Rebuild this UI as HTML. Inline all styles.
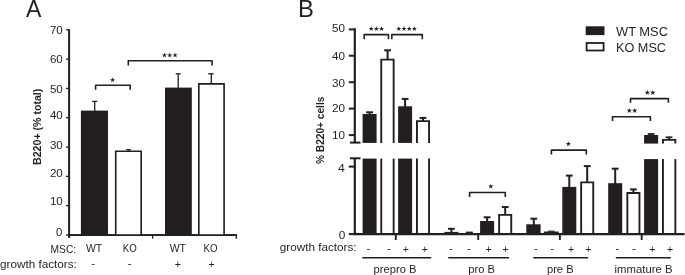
<!DOCTYPE html>
<html><head><meta charset="utf-8"><title>Figure</title>
<style>
html,body{margin:0;padding:0;background:#fff;}
body{width:685px;height:275px;overflow:hidden;}
svg{display:block;will-change:transform;}
text{font-family:"Liberation Sans",sans-serif;fill:#231f20;}
</style></head><body>
<svg width="685" height="275" viewBox="0 0 685 275">
<rect width="685" height="275" fill="#fff"/>
<text x="26.0" y="16.9" font-size="23.8" text-anchor="start" font-weight="normal" textLength="15.4" lengthAdjust="spacingAndGlyphs" >A</text>
<line x1="69.1" y1="29.2" x2="69.1" y2="237.9" stroke="#231f20" stroke-width="2.0" stroke-linecap="butt"/>
<line x1="68.19999999999999" y1="235.1" x2="236.9" y2="235.1" stroke="#231f20" stroke-width="1.7" stroke-linecap="butt"/>
<line x1="66.0" y1="235.0" x2="69.1" y2="235.0" stroke="#231f20" stroke-width="1.3" stroke-linecap="butt"/>
<text x="62.4" y="235.8" font-size="11.8" text-anchor="end" font-weight="normal" textLength="6.3" lengthAdjust="spacingAndGlyphs" >0</text>
<line x1="66.0" y1="205.69" x2="69.1" y2="205.69" stroke="#231f20" stroke-width="1.3" stroke-linecap="butt"/>
<text x="62.8" y="204.9" font-size="11.8" text-anchor="end" font-weight="normal" textLength="12.9" lengthAdjust="spacingAndGlyphs" >10</text>
<line x1="66.0" y1="176.38" x2="69.1" y2="176.38" stroke="#231f20" stroke-width="1.3" stroke-linecap="butt"/>
<text x="62.8" y="177.4" font-size="11.8" text-anchor="end" font-weight="normal" textLength="12.9" lengthAdjust="spacingAndGlyphs" >20</text>
<line x1="66.0" y1="147.07" x2="69.1" y2="147.07" stroke="#231f20" stroke-width="1.3" stroke-linecap="butt"/>
<text x="62.8" y="149.3" font-size="11.8" text-anchor="end" font-weight="normal" textLength="12.9" lengthAdjust="spacingAndGlyphs" >30</text>
<line x1="66.0" y1="117.76" x2="69.1" y2="117.76" stroke="#231f20" stroke-width="1.3" stroke-linecap="butt"/>
<text x="62.8" y="119.4" font-size="11.8" text-anchor="end" font-weight="normal" textLength="12.9" lengthAdjust="spacingAndGlyphs" >40</text>
<line x1="66.0" y1="88.45000000000002" x2="69.1" y2="88.45000000000002" stroke="#231f20" stroke-width="1.3" stroke-linecap="butt"/>
<text x="62.8" y="93.2" font-size="11.8" text-anchor="end" font-weight="normal" textLength="12.9" lengthAdjust="spacingAndGlyphs" >50</text>
<line x1="66.0" y1="59.140000000000015" x2="69.1" y2="59.140000000000015" stroke="#231f20" stroke-width="1.3" stroke-linecap="butt"/>
<text x="62.8" y="63.3" font-size="11.8" text-anchor="end" font-weight="normal" textLength="12.9" lengthAdjust="spacingAndGlyphs" >60</text>
<line x1="66.0" y1="29.830000000000013" x2="69.1" y2="29.830000000000013" stroke="#231f20" stroke-width="1.3" stroke-linecap="butt"/>
<text x="62.8" y="34.0" font-size="11.8" text-anchor="end" font-weight="normal" textLength="12.9" lengthAdjust="spacingAndGlyphs" >70</text>
<line x1="152.6" y1="235.0" x2="152.6" y2="238.7" stroke="#231f20" stroke-width="1.3" stroke-linecap="butt"/>
<line x1="236.3" y1="235.0" x2="236.3" y2="238.7" stroke="#231f20" stroke-width="1.3" stroke-linecap="butt"/>
<text x="40.7" y="164.9" font-size="11.5" text-anchor="start" font-weight="bold" textLength="76.2" lengthAdjust="spacingAndGlyphs" transform="rotate(-90 40.7 164.9)" >B220+ (% total)</text>
<rect x="80.90" y="110.60" width="27.10" height="124.40" fill="#231f20"/>
<line x1="94.7" y1="101.4" x2="94.7" y2="111" stroke="#231f20" stroke-width="1.3" stroke-linecap="butt"/>
<line x1="92.2" y1="101.4" x2="97.2" y2="101.4" stroke="#231f20" stroke-width="1.3" stroke-linecap="butt"/>
<line x1="128.5" y1="149.7" x2="128.5" y2="151" stroke="#231f20" stroke-width="1.2" stroke-linecap="butt"/>
<line x1="126.0" y1="149.7" x2="131.0" y2="149.7" stroke="#231f20" stroke-width="1.2" stroke-linecap="butt"/>
<path d="M115.73 235.0 V151.22 H141.18 V235.0" fill="#fff" stroke="#231f20" stroke-width="1.65"/>
<line x1="178.2" y1="73.8" x2="178.2" y2="88" stroke="#231f20" stroke-width="1.3" stroke-linecap="butt"/>
<line x1="175.7" y1="73.8" x2="180.7" y2="73.8" stroke="#231f20" stroke-width="1.3" stroke-linecap="butt"/>
<rect x="165.00" y="87.60" width="26.80" height="147.40" fill="#231f20"/>
<line x1="211.3" y1="73.8" x2="211.3" y2="84" stroke="#231f20" stroke-width="1.3" stroke-linecap="butt"/>
<line x1="208.2" y1="73.8" x2="213.7" y2="73.8" stroke="#231f20" stroke-width="1.3" stroke-linecap="butt"/>
<path d="M198.82 235.0 V83.83 H224.08 V235.0" fill="#fff" stroke="#231f20" stroke-width="1.65"/>
<line x1="68.19999999999999" y1="235.1" x2="236.9" y2="235.1" stroke="#231f20" stroke-width="1.7" stroke-linecap="butt"/>
<path d="M95.6 89.8 V85.2 H130.2 V89.8" fill="none" stroke="#231f20" stroke-width="1.6" stroke-linejoin="round"/>
<path d="M128.3 65.6 V60.8 H212.1 V65.6" fill="none" stroke="#231f20" stroke-width="1.6" stroke-linejoin="round"/>
<polygon points="112.60,77.08 113.22,79.13 115.36,79.08 113.60,80.30 114.30,82.32 112.60,81.03 110.90,82.32 111.60,80.30 109.84,79.08 111.98,79.13" fill="#231f20"/>
<polygon points="164.45,52.38 165.07,54.43 167.21,54.38 165.45,55.60 166.15,57.62 164.45,56.33 162.75,57.62 163.45,55.60 161.69,54.38 163.83,54.43" fill="#231f20"/>
<polygon points="169.75,52.38 170.37,54.43 172.51,54.38 170.75,55.60 171.45,57.62 169.75,56.33 168.05,57.62 168.75,55.60 166.99,54.38 169.13,54.43" fill="#231f20"/>
<polygon points="175.05,52.38 175.67,54.43 177.81,54.38 176.05,55.60 176.75,57.62 175.05,56.33 173.35,57.62 174.05,55.60 172.29,54.38 174.43,54.43" fill="#231f20"/>
<text x="76.1" y="252.6" font-size="11.5" text-anchor="end" font-weight="normal" textLength="25.5" lengthAdjust="spacingAndGlyphs" >MSC:</text>
<text x="76.8" y="268" font-size="11.5" text-anchor="end" font-weight="normal" textLength="76.8" lengthAdjust="spacingAndGlyphs" >growth factors:</text>
<text x="94.1" y="252.4" font-size="11.5" text-anchor="middle" font-weight="normal" textLength="16.3" lengthAdjust="spacingAndGlyphs" >WT</text>
<text x="129.8" y="252.4" font-size="11.5" text-anchor="middle" font-weight="normal" textLength="14" lengthAdjust="spacingAndGlyphs" >KO</text>
<text x="177.8" y="252.4" font-size="11.5" text-anchor="middle" font-weight="normal" textLength="16.3" lengthAdjust="spacingAndGlyphs" >WT</text>
<text x="210.6" y="252.4" font-size="11.5" text-anchor="middle" font-weight="normal" textLength="14" lengthAdjust="spacingAndGlyphs" >KO</text>
<text x="93.1" y="267.1" font-size="11.5" text-anchor="middle" font-weight="normal" >-</text>
<text x="129.7" y="267.1" font-size="11.5" text-anchor="middle" font-weight="normal" >-</text>
<text x="177.8" y="268.3" font-size="10.5" text-anchor="middle" font-weight="normal" >+</text>
<text x="211.6" y="268.3" font-size="10.5" text-anchor="middle" font-weight="normal" >+</text>
<text x="298.0" y="16.9" font-size="23.8" text-anchor="start" font-weight="normal" >B</text>
<line x1="354.8" y1="28.2" x2="354.8" y2="142.6" stroke="#231f20" stroke-width="2.2" stroke-linecap="butt"/>
<line x1="349.9" y1="142.6" x2="360.5" y2="142.6" stroke="#231f20" stroke-width="2.0" stroke-linecap="butt"/>
<line x1="354.8" y1="158.3" x2="354.8" y2="234.1" stroke="#231f20" stroke-width="2.2" stroke-linecap="butt"/>
<line x1="349.9" y1="158.3" x2="360.5" y2="158.3" stroke="#231f20" stroke-width="2.0" stroke-linecap="butt"/>
<line x1="348.8" y1="29.4" x2="354.8" y2="29.4" stroke="#231f20" stroke-width="2.0" stroke-linecap="butt"/>
<text x="345.0" y="32.2" font-size="11.8" text-anchor="end" font-weight="normal" textLength="13.0" lengthAdjust="spacingAndGlyphs" >50</text>
<line x1="348.8" y1="55.7" x2="354.8" y2="55.7" stroke="#231f20" stroke-width="2.0" stroke-linecap="butt"/>
<text x="345.0" y="59.9" font-size="11.8" text-anchor="end" font-weight="normal" textLength="13.0" lengthAdjust="spacingAndGlyphs" >40</text>
<line x1="348.8" y1="82.2" x2="354.8" y2="82.2" stroke="#231f20" stroke-width="2.0" stroke-linecap="butt"/>
<text x="345.0" y="86.6" font-size="11.8" text-anchor="end" font-weight="normal" textLength="13.0" lengthAdjust="spacingAndGlyphs" >30</text>
<line x1="348.8" y1="108.6" x2="354.8" y2="108.6" stroke="#231f20" stroke-width="2.0" stroke-linecap="butt"/>
<text x="345.0" y="112.2" font-size="11.8" text-anchor="end" font-weight="normal" textLength="13.0" lengthAdjust="spacingAndGlyphs" >20</text>
<line x1="348.8" y1="135.1" x2="354.8" y2="135.1" stroke="#231f20" stroke-width="2.0" stroke-linecap="butt"/>
<text x="345.0" y="139.3" font-size="11.8" text-anchor="end" font-weight="normal" textLength="13.0" lengthAdjust="spacingAndGlyphs" >10</text>
<line x1="348.8" y1="166.6" x2="354.8" y2="166.6" stroke="#231f20" stroke-width="2.0" stroke-linecap="butt"/>
<text x="344.8" y="171.7" font-size="11.8" text-anchor="end" font-weight="normal" textLength="6.8" lengthAdjust="spacingAndGlyphs" >4</text>
<line x1="348.8" y1="234.1" x2="354.8" y2="234.1" stroke="#231f20" stroke-width="2.0" stroke-linecap="butt"/>
<text x="345.4" y="238.6" font-size="11.8" text-anchor="end" font-weight="normal" textLength="6.6" lengthAdjust="spacingAndGlyphs" >0</text>
<text x="323.5" y="164.0" font-size="11.5" text-anchor="start" font-weight="bold" textLength="67.4" lengthAdjust="spacingAndGlyphs" transform="rotate(-90 323.5 164.0)" >% B220+ cells</text>
<line x1="369.6" y1="112.3" x2="369.6" y2="115" stroke="#231f20" stroke-width="2.0" stroke-linecap="butt"/>
<line x1="366.20000000000005" y1="112.3" x2="373.0" y2="112.3" stroke="#231f20" stroke-width="2.0" stroke-linecap="butt"/>
<rect x="362.60" y="114.00" width="14.00" height="28.90" fill="#231f20"/>
<rect x="362.60" y="158.60" width="14.00" height="75.50" fill="#231f20"/>
<line x1="387.6" y1="50.3" x2="387.6" y2="59" stroke="#231f20" stroke-width="2.0" stroke-linecap="butt"/>
<line x1="384.20000000000005" y1="50.3" x2="391.0" y2="50.3" stroke="#231f20" stroke-width="2.0" stroke-linecap="butt"/>
<path d="M381.25 142.9 V59.65 H393.65 V142.9" fill="#fff" stroke="#231f20" stroke-width="1.9"/>
<line x1="381.25" y1="158.6" x2="381.25" y2="234.1" stroke="#231f20" stroke-width="1.9" stroke-linecap="butt"/>
<line x1="393.65000000000003" y1="158.6" x2="393.65000000000003" y2="234.1" stroke="#231f20" stroke-width="1.9" stroke-linecap="butt"/>
<line x1="405.1" y1="98.9" x2="405.1" y2="107" stroke="#231f20" stroke-width="2.0" stroke-linecap="butt"/>
<line x1="401.70000000000005" y1="98.9" x2="408.5" y2="98.9" stroke="#231f20" stroke-width="2.0" stroke-linecap="butt"/>
<rect x="398.10" y="106.30" width="14.00" height="36.60" fill="#231f20"/>
<rect x="398.10" y="158.60" width="14.00" height="75.50" fill="#231f20"/>
<line x1="423.0" y1="117.9" x2="423.0" y2="121" stroke="#231f20" stroke-width="2.0" stroke-linecap="butt"/>
<line x1="419.6" y1="117.9" x2="426.4" y2="117.9" stroke="#231f20" stroke-width="2.0" stroke-linecap="butt"/>
<path d="M416.95 142.9 V121.15 H429.05 V142.9" fill="#fff" stroke="#231f20" stroke-width="1.9"/>
<line x1="416.95" y1="158.6" x2="416.95" y2="234.1" stroke="#231f20" stroke-width="1.9" stroke-linecap="butt"/>
<line x1="429.05" y1="158.6" x2="429.05" y2="234.1" stroke="#231f20" stroke-width="1.9" stroke-linecap="butt"/>
<line x1="451.4" y1="228.8" x2="451.4" y2="232.5" stroke="#231f20" stroke-width="2.0" stroke-linecap="butt"/>
<line x1="448.0" y1="228.8" x2="454.79999999999995" y2="228.8" stroke="#231f20" stroke-width="2.0" stroke-linecap="butt"/>
<rect x="444.40" y="231.90" width="14.00" height="2.20" fill="#231f20"/>
<line x1="465.8" y1="232.3" x2="472.8" y2="232.3" stroke="#231f20" stroke-width="1.4" stroke-linecap="butt"/>
<line x1="487.1" y1="217.3" x2="487.1" y2="222.5" stroke="#231f20" stroke-width="2.0" stroke-linecap="butt"/>
<line x1="483.70000000000005" y1="217.3" x2="490.5" y2="217.3" stroke="#231f20" stroke-width="2.0" stroke-linecap="butt"/>
<rect x="480.10" y="221.00" width="14.00" height="13.10" fill="#231f20"/>
<line x1="505.2" y1="207.0" x2="505.2" y2="215" stroke="#231f20" stroke-width="2.0" stroke-linecap="butt"/>
<line x1="501.8" y1="207.0" x2="508.59999999999997" y2="207.0" stroke="#231f20" stroke-width="2.0" stroke-linecap="butt"/>
<path d="M499.15 234.1 V214.85 H511.25 V234.1" fill="#fff" stroke="#231f20" stroke-width="1.9"/>
<line x1="533.8" y1="218.7" x2="533.8" y2="225" stroke="#231f20" stroke-width="2.0" stroke-linecap="butt"/>
<line x1="530.4" y1="218.7" x2="537.1999999999999" y2="218.7" stroke="#231f20" stroke-width="2.0" stroke-linecap="butt"/>
<rect x="526.30" y="224.30" width="14.30" height="9.80" fill="#231f20"/>
<path d="M544.65 234.1 V232.35 H557.95 V234.1" fill="#fff" stroke="#231f20" stroke-width="1.5"/>
<line x1="548.1" y1="231.2" x2="554.6" y2="231.2" stroke="#231f20" stroke-width="1.2" stroke-linecap="butt"/>
<line x1="569.3" y1="175.6" x2="569.3" y2="187.5" stroke="#231f20" stroke-width="2.0" stroke-linecap="butt"/>
<line x1="565.9" y1="175.6" x2="572.6999999999999" y2="175.6" stroke="#231f20" stroke-width="2.0" stroke-linecap="butt"/>
<rect x="562.30" y="186.90" width="14.00" height="47.20" fill="#231f20"/>
<line x1="587.2" y1="166.1" x2="587.2" y2="182" stroke="#231f20" stroke-width="2.0" stroke-linecap="butt"/>
<line x1="583.8000000000001" y1="166.1" x2="590.6" y2="166.1" stroke="#231f20" stroke-width="2.0" stroke-linecap="butt"/>
<path d="M581.15 234.1 V182.35 H593.25 V234.1" fill="#fff" stroke="#231f20" stroke-width="1.9"/>
<line x1="615.2" y1="168.7" x2="615.2" y2="184" stroke="#231f20" stroke-width="2.0" stroke-linecap="butt"/>
<line x1="611.8000000000001" y1="168.7" x2="618.6" y2="168.7" stroke="#231f20" stroke-width="2.0" stroke-linecap="butt"/>
<rect x="608.20" y="183.20" width="14.00" height="50.90" fill="#231f20"/>
<line x1="633.4" y1="189.4" x2="633.4" y2="193" stroke="#231f20" stroke-width="2.0" stroke-linecap="butt"/>
<line x1="630.0" y1="189.4" x2="636.8" y2="189.4" stroke="#231f20" stroke-width="2.0" stroke-linecap="butt"/>
<path d="M627.35 234.1 V192.95 H639.45 V234.1" fill="#fff" stroke="#231f20" stroke-width="1.9"/>
<line x1="651.1" y1="134.0" x2="651.1" y2="136" stroke="#231f20" stroke-width="1.8" stroke-linecap="butt"/>
<line x1="647.7" y1="134.0" x2="654.5" y2="134.0" stroke="#231f20" stroke-width="1.8" stroke-linecap="butt"/>
<rect x="644.10" y="135.00" width="14.00" height="8.60" fill="#231f20"/>
<rect x="644.10" y="159.10" width="14.00" height="75.00" fill="#231f20"/>
<line x1="669.0" y1="137.3" x2="669.0" y2="140" stroke="#231f20" stroke-width="1.8" stroke-linecap="butt"/>
<line x1="665.6" y1="137.3" x2="672.4" y2="137.3" stroke="#231f20" stroke-width="1.8" stroke-linecap="butt"/>
<path d="M662.95 143.6 V139.85 H675.35 V143.6" fill="#fff" stroke="#231f20" stroke-width="1.9"/>
<line x1="662.95" y1="159.1" x2="662.95" y2="234.1" stroke="#231f20" stroke-width="1.9" stroke-linecap="butt"/>
<line x1="675.3499999999999" y1="159.1" x2="675.3499999999999" y2="234.1" stroke="#231f20" stroke-width="1.9" stroke-linecap="butt"/>
<line x1="353.7" y1="234.1" x2="684.6" y2="234.1" stroke="#231f20" stroke-width="2.1" stroke-linecap="butt"/>
<line x1="395.8" y1="234.1" x2="395.8" y2="240.0" stroke="#231f20" stroke-width="1.9" stroke-linecap="butt"/>
<line x1="478.2" y1="234.1" x2="478.2" y2="240.0" stroke="#231f20" stroke-width="1.9" stroke-linecap="butt"/>
<line x1="559.9" y1="234.1" x2="559.9" y2="240.0" stroke="#231f20" stroke-width="1.9" stroke-linecap="butt"/>
<line x1="641.7" y1="234.1" x2="641.7" y2="240.0" stroke="#231f20" stroke-width="1.9" stroke-linecap="butt"/>
<path d="M364.2 39.2 V34.6 H388.5 V39.2" fill="none" stroke="#231f20" stroke-width="1.6" stroke-linejoin="round"/>
<path d="M391.8 39.2 V34.6 H422.3 V39.2" fill="none" stroke="#231f20" stroke-width="1.6" stroke-linejoin="round"/>
<polygon points="371.20,26.01 371.82,27.91 373.82,27.91 372.20,29.09 372.82,30.99 371.20,29.81 369.58,30.99 370.20,29.09 368.58,27.91 370.58,27.91" fill="#231f20"/>
<polygon points="376.40,26.01 377.02,27.91 379.02,27.91 377.40,29.09 378.02,30.99 376.40,29.81 374.78,30.99 375.40,29.09 373.78,27.91 375.78,27.91" fill="#231f20"/>
<polygon points="381.60,26.01 382.22,27.91 384.22,27.91 382.60,29.09 383.22,30.99 381.60,29.81 379.98,30.99 380.60,29.09 378.98,27.91 380.98,27.91" fill="#231f20"/>
<polygon points="398.80,26.01 399.42,27.91 401.42,27.91 399.80,29.09 400.42,30.99 398.80,29.81 397.18,30.99 397.80,29.09 396.18,27.91 398.18,27.91" fill="#231f20"/>
<polygon points="404.00,26.01 404.62,27.91 406.62,27.91 405.00,29.09 405.62,30.99 404.00,29.81 402.38,30.99 403.00,29.09 401.38,27.91 403.38,27.91" fill="#231f20"/>
<polygon points="409.20,26.01 409.82,27.91 411.82,27.91 410.20,29.09 410.82,30.99 409.20,29.81 407.58,30.99 408.20,29.09 406.58,27.91 408.58,27.91" fill="#231f20"/>
<polygon points="414.40,26.01 415.02,27.91 417.02,27.91 415.40,29.09 416.02,30.99 414.40,29.81 412.78,30.99 413.40,29.09 411.78,27.91 413.78,27.91" fill="#231f20"/>
<path d="M469.6 197.0 V192.5 H505.3 V197.0" fill="none" stroke="#231f20" stroke-width="1.6" stroke-linejoin="round"/>
<polygon points="490.80,183.71 491.42,185.61 493.42,185.61 491.80,186.79 492.42,188.69 490.80,187.51 489.18,188.69 489.80,186.79 488.18,185.61 490.18,185.61" fill="#231f20"/>
<path d="M551.4 154.4 V150.1 H586.3 V154.4" fill="none" stroke="#231f20" stroke-width="1.6" stroke-linejoin="round"/>
<polygon points="568.40,141.21 569.02,143.11 571.02,143.11 569.40,144.29 570.02,146.19 568.40,145.01 566.78,146.19 567.40,144.29 565.78,143.11 567.78,143.11" fill="#231f20"/>
<path d="M612.5 121.10000000000001 V116.7 H650.4 V121.10000000000001" fill="none" stroke="#231f20" stroke-width="1.6" stroke-linejoin="round"/>
<polygon points="629.30,107.78 629.92,109.83 632.06,109.78 630.30,111.00 631.00,113.02 629.30,111.73 627.60,113.02 628.30,111.00 626.54,109.78 628.68,109.83" fill="#231f20"/>
<polygon points="634.70,107.78 635.32,109.83 637.46,109.78 635.70,111.00 636.40,113.02 634.70,111.73 633.00,113.02 633.70,111.00 631.94,109.78 634.08,109.83" fill="#231f20"/>
<path d="M630.5 102.8 V98.6 H668.4 V102.8" fill="none" stroke="#231f20" stroke-width="1.6" stroke-linejoin="round"/>
<polygon points="647.40,89.78 648.02,91.83 650.16,91.78 648.40,93.00 649.10,95.02 647.40,93.73 645.70,95.02 646.40,93.00 644.64,91.78 646.78,91.83" fill="#231f20"/>
<polygon points="652.80,89.78 653.42,91.83 655.56,91.78 653.80,93.00 654.50,95.02 652.80,93.73 651.10,95.02 651.80,93.00 650.04,91.78 652.18,91.83" fill="#231f20"/>
<text x="356.6" y="251.2" font-size="11.5" text-anchor="end" font-weight="normal" textLength="76.8" lengthAdjust="spacingAndGlyphs" >growth factors:</text>
<text x="368.3" y="251.6" font-size="11.5" text-anchor="middle" font-weight="normal" >-</text>
<text x="389.0" y="251.6" font-size="11.5" text-anchor="middle" font-weight="normal" >-</text>
<text x="405.9" y="253.0" font-size="10.5" text-anchor="middle" font-weight="normal" >+</text>
<text x="424.9" y="253.0" font-size="10.5" text-anchor="middle" font-weight="normal" >+</text>
<text x="451.0" y="251.6" font-size="11.5" text-anchor="middle" font-weight="normal" >-</text>
<text x="469.0" y="251.6" font-size="11.5" text-anchor="middle" font-weight="normal" >-</text>
<text x="488.6" y="253.0" font-size="10.5" text-anchor="middle" font-weight="normal" >+</text>
<text x="505.5" y="253.0" font-size="10.5" text-anchor="middle" font-weight="normal" >+</text>
<text x="535.9" y="251.6" font-size="11.5" text-anchor="middle" font-weight="normal" >-</text>
<text x="552.2" y="251.6" font-size="11.5" text-anchor="middle" font-weight="normal" >-</text>
<text x="571.0" y="253.0" font-size="10.5" text-anchor="middle" font-weight="normal" >+</text>
<text x="588.2" y="253.0" font-size="10.5" text-anchor="middle" font-weight="normal" >+</text>
<text x="617.4" y="251.6" font-size="11.5" text-anchor="middle" font-weight="normal" >-</text>
<text x="634.0" y="251.6" font-size="11.5" text-anchor="middle" font-weight="normal" >-</text>
<text x="652.3" y="253.0" font-size="10.5" text-anchor="middle" font-weight="normal" >+</text>
<text x="670.0" y="253.0" font-size="10.5" text-anchor="middle" font-weight="normal" >+</text>
<line x1="362.3" y1="257.7" x2="431.2" y2="257.7" stroke="#231f20" stroke-width="1.5" stroke-linecap="butt"/>
<line x1="448.3" y1="257.7" x2="509.0" y2="257.7" stroke="#231f20" stroke-width="1.5" stroke-linecap="butt"/>
<line x1="533.2" y1="257.7" x2="588.2" y2="257.7" stroke="#231f20" stroke-width="1.5" stroke-linecap="butt"/>
<line x1="615.8" y1="257.7" x2="670.8" y2="257.7" stroke="#231f20" stroke-width="1.5" stroke-linecap="butt"/>
<text x="395.1" y="273.2" font-size="11.5" text-anchor="middle" font-weight="normal" textLength="43" lengthAdjust="spacingAndGlyphs" >prepro B</text>
<text x="481.6" y="273.2" font-size="11.5" text-anchor="middle" font-weight="normal" textLength="26.7" lengthAdjust="spacingAndGlyphs" >pro B</text>
<text x="560.3" y="273.2" font-size="11.5" text-anchor="middle" font-weight="normal" textLength="26.7" lengthAdjust="spacingAndGlyphs" >pre B</text>
<text x="643.6" y="273.2" font-size="11.5" text-anchor="middle" font-weight="normal" textLength="58" lengthAdjust="spacingAndGlyphs" >immature B</text>
<rect x="585.70" y="26.30" width="18.80" height="8.80" fill="#231f20"/>
<rect x="586.6" y="43.0" width="17.0" height="7.5" fill="#fff" stroke="#231f20" stroke-width="1.8"/>
<text x="616.0" y="36.3" font-size="13.2" text-anchor="start" font-weight="normal" textLength="52" lengthAdjust="spacingAndGlyphs" >WT MSC</text>
<text x="616.0" y="52.1" font-size="13.2" text-anchor="start" font-weight="normal" textLength="50" lengthAdjust="spacingAndGlyphs" >KO MSC</text>
</svg>
</body></html>
